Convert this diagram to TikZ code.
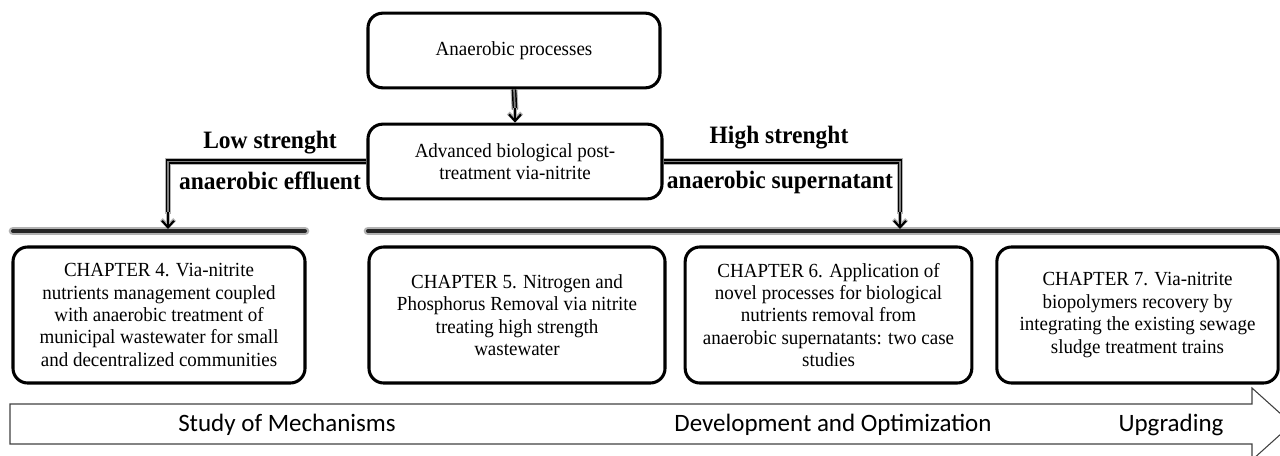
\documentclass[tikz,border=0pt]{standalone}
\usepackage{fontspec}
\setmainfont{Liberation Serif}
\newfontfamily\boxfont[FakeStretch=0.95]{Liberation Serif}
\newfontfamily\labfont[FakeStretch=0.94]{Liberation Serif}
\newfontfamily\phasefont{Carlito}
\usetikzlibrary{arrows.meta,calc}

\tikzset{
  rbox/.style={draw=black, line width=2.3pt, rounded corners=11pt, fill=white,
    align=center, inner sep=0pt,
    font=\boxfont\fontsize{15pt}{16.8pt}\selectfont},
  topbox/.style={rbox, minimum width=219pt, minimum height=56pt},
  chapbox/.style={rbox, minimum height=102pt},
  flowlabel/.style={font=\labfont\bfseries\fontsize{18.75pt}{20pt}\selectfont, anchor=base, inner sep=0pt},
  conn/.style={line width=1.1pt, double=black!50, double distance=1.3pt,
    preaction={draw=gray!60, line width=5.2pt}},
  tip/.style={line width=1.6pt, -{Straight Barb[length=5pt,width=9pt]},
    preaction={draw=gray!60, line width=3pt, -{Straight Barb[length=5pt,width=10pt]}}},
  bar/.style={line width=3pt, line cap=round, draw=black!85,
    preaction={draw=gray!60, line width=6.5pt, line cap=round}},
  phase/.style={font=\phasefont\fontsize{18.75pt}{20pt}\selectfont, inner sep=0pt},
  bigarrow/.style={draw=black!75, line width=0.8pt, line join=miter}
}

\begin{document}
\begin{tikzpicture}[x=0.75pt, y=-0.75pt]
\useasboundingbox (0,0) rectangle (1280,456);
\clip (0,0) rectangle (1280,456);

% Stage arrow along the bottom
\draw[bigarrow] (10,404) -- (1252,404) -- (1252,388) -- (1292,424)
  -- (1252,460) -- (1252,444) -- (10,444) -- cycle;
\node[phase] (mech) at (287,425) {Study of Mechanisms};
\node[phase] (dev) at (833,425) {Development and Optimization};
\node[phase] (upg) at (1171,425) {Upgrading};

% Top of the flow
\node[topbox] (anaer) at (514,50.5) {Anaerobic processes};
\node[topbox, minimum width=220.5pt] (post) at (515,161.5)
  {Advanced biological post-\\treatment via-nitrite};

% Distribution bars
\coordinate (lbarA) at (13,231);
\coordinate (lbarB) at (305,231);
\coordinate (rbarA) at (368,231);
\coordinate (rbarB) at (1290,231);
\draw[bar] (lbarA) -- (lbarB);
\draw[bar] (rbarA) -- (rbarB);

% Drop points on the bars
\coordinate (ldrop) at (168,229);
\coordinate (rdrop) at (900,229);
\coordinate (ltip) at (168,214);
\coordinate (rtip) at (900,214);

% Connectors
\draw[conn] (anaer.south) -- ($(post.north)+(0,-13)$);
\draw[tip] ($(post.north)+(0,-15)$) -- (post.north);
\draw[conn] (post.west) -| (ltip);
\draw[tip] ($(ltip)+(0,-2)$) -- (ldrop);
\draw[conn] (post.east) -| (rtip);
\draw[tip] ($(rtip)+(0,-2)$) -- (rdrop);

% Branch labels
\node[flowlabel] (lowa) at (270,148) {Low strenght};
\node[flowlabel] (lowb) at (270,190) {anaerobic effluent};
\node[flowlabel] (higha) at (779,144) {High strenght};
\node[flowlabel] (highb) at (780,188) {anaerobic supernatant};

% Chapters
\node[chapbox, minimum width=219pt] (ch4) at (159,315)
  {CHAPTER 4. Via-nitrite\\nutrients management coupled\\with anaerobic treatment of\\municipal wastewater for small\\and decentralized communities};
\node[chapbox, minimum width=222pt] (ch5) at (517,315)
  {CHAPTER 5. Nitrogen and\\Phosphorus Removal via nitrite\\treating high strength\\wastewater};
\node[chapbox, minimum width=215pt] (ch6) at (828.5,315)
  {CHAPTER 6. Application of\\novel processes for biological\\nutrients removal from\\anaerobic supernatants: two case\\studies};
\node[chapbox, minimum width=211pt] (ch7) at (1137.5,315)
  {CHAPTER 7. Via-nitrite\\biopolymers recovery by\\integrating the existing sewage\\sludge treatment trains};
\end{tikzpicture}
\end{document}
